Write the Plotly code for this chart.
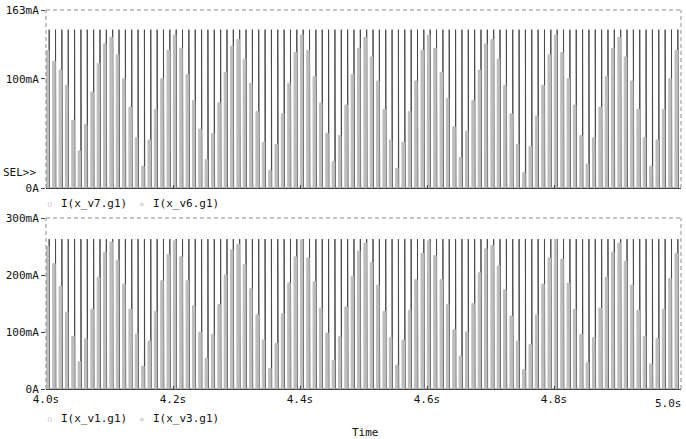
import numpy as np
import plotly.graph_objects as go

# ---------------- data ----------------
cycle_count = 100
cycle_start_s = 4.0
cycle_period_s = 0.01
cycle_times = [round(cycle_start_s + cycle_period_s * i, 3) for i in range(cycle_count)]

# top panel, mA
i_v7_peak = [
    145, 145, 145, 145, 145, 145, 145, 145, 145, 145,
    145, 145, 145, 145, 145, 145, 145, 145, 145, 145,
    145, 145, 145, 145, 145, 145, 145, 145, 145, 145,
    145, 145, 145, 145, 145, 145, 145, 145, 145, 145,
    145, 145, 145, 145, 145, 145, 145, 145, 145, 145,
    145, 145, 145, 145, 145, 145, 145, 145, 145, 145,
    145, 145, 145, 145, 145, 145, 145, 145, 145, 145,
    145, 145, 145, 145, 145, 145, 145, 145, 145, 145,
    145, 145, 145, 145, 145, 145, 145, 145, 145, 145,
    145, 145, 145, 145, 145, 145, 145, 145, 145, 145,
]
i_v6_peak = [
    126, 116, 108, 94, 62, 34, 58, 88, 114, 132,
    138, 122, 100, 74, 46, 20, 44, 72, 100, 126,
    140, 128, 104, 80, 54, 26, 50, 78, 106, 130,
    136, 118, 96, 70, 42, 16, 40, 68, 96, 124,
    140, 126, 102, 78, 50, 24, 48, 76, 104, 128,
    138, 120, 98, 72, 44, 18, 42, 70, 98, 126,
    140, 128, 106, 82, 56, 28, 52, 80, 108, 132,
    136, 118, 94, 68, 40, 14, 38, 66, 94, 122,
    140, 124, 100, 76, 48, 22, 46, 74, 102, 128,
    138, 120, 98, 72, 46, 20, 44, 72, 100, 126,
]
# bottom panel, mA
i_v1_peak = [
    263, 263, 263, 263, 263, 263, 263, 263, 263, 263,
    263, 263, 263, 263, 263, 263, 263, 263, 263, 263,
    263, 263, 263, 263, 263, 263, 263, 263, 263, 263,
    263, 263, 263, 263, 263, 263, 263, 263, 263, 263,
    263, 263, 263, 263, 263, 263, 263, 263, 263, 263,
    263, 263, 263, 263, 263, 263, 263, 263, 263, 263,
    263, 263, 263, 263, 263, 263, 263, 263, 263, 263,
    263, 263, 263, 263, 263, 263, 263, 263, 263, 263,
    263, 263, 263, 263, 263, 263, 263, 263, 263, 263,
    263, 263, 263, 263, 263, 263, 263, 263, 263, 263,
]
i_v3_peak = [
    250, 220, 180, 135, 92, 48, 88, 140, 196, 240,
    258, 226, 184, 140, 96, 40, 84, 136, 190, 236,
    260, 232, 190, 146, 100, 54, 96, 148, 200, 244,
    254, 218, 176, 130, 86, 36, 80, 132, 186, 232,
    262, 230, 188, 142, 98, 50, 92, 144, 198, 242,
    256, 222, 182, 136, 90, 42, 86, 138, 192, 238,
    260, 234, 192, 148, 104, 58, 100, 150, 204, 246,
    252, 216, 174, 128, 84, 34, 78, 130, 184, 230,
    262, 228, 186, 140, 96, 46, 90, 142, 196, 240,
    256, 224, 182, 138, 92, 44, 88, 140, 194, 238,
]

top_ticks = [0, 100, 163]
top_ticktext = ["0A", "100mA", "163mA"]
bot_ticks = [0, 100, 200, 300]
bot_ticktext = ["0A", "100mA", "200mA", "300mA"]
time_ticks = [4.0, 4.2, 4.4, 4.6, 4.8, 5.0]
time_ticktext = ["4.0s", "4.2s", "4.4s", "4.6s", "4.8s", ""]

# ---------------- helpers ----------------
def pulses(starts, peaks, t_on, t_off):
    xs, ys = [], []
    for t0, p in zip(starts, peaks):
        a, b = t0 + t_on, t0 + t_off
        xs += [a, a, b, b]
        ys += [0, p, p, 0]
    return xs, ys

DARK = "#4a4a4a"
LIGHT = "#bdbdbd"
FONT = "DejaVu Sans Mono"
W, H = 686, 439

fig = go.Figure()

# top panel
x, y = pulses(cycle_times, i_v7_peak, 0.0050, 0.0055)
fig.add_trace(go.Scatter(x=x, y=y, mode="lines", line=dict(color=DARK, width=1),
                         xaxis="x", yaxis="y", showlegend=False, hoverinfo="skip"))
x, y = pulses(cycle_times, i_v6_peak, 0.0006, 0.0045)
fig.add_trace(go.Scatter(x=x, y=y, mode="lines", line=dict(color=LIGHT, width=1),
                         fill="tozeroy", fillcolor=LIGHT,
                         xaxis="x", yaxis="y", showlegend=False, hoverinfo="skip"))
# bottom panel
x, y = pulses(cycle_times, i_v1_peak, 0.0050, 0.0055)
fig.add_trace(go.Scatter(x=x, y=y, mode="lines", line=dict(color=DARK, width=1),
                         xaxis="x2", yaxis="y2", showlegend=False, hoverinfo="skip"))
x, y = pulses(cycle_times, i_v3_peak, 0.0006, 0.0045)
fig.add_trace(go.Scatter(x=x, y=y, mode="lines", line=dict(color=LIGHT, width=1),
                         fill="tozeroy", fillcolor=LIGHT,
                         xaxis="x2", yaxis="y2", showlegend=False, hoverinfo="skip"))

def py(pix):
    return 1 - pix / H

xdom = [46 / W, 681 / W]
top_dom = [py(188), py(10)]
bot_dom = [py(389), py(218)]

axis_font = dict(family=FONT, size=11, color="#111111")
common_x = dict(range=[4.0, 5.0], domain=xdom, showgrid=False, zeroline=False,
                showline=True, linecolor="#444444", linewidth=1, automargin=False,
                tickvals=time_ticks, ticks="inside", ticklen=3, tickcolor="#444444",
                tickfont=axis_font)
common_y = dict(showgrid=False, zeroline=False, showline=False, automargin=False,
                ticks="outside", ticklen=4, tickcolor="#444444", tickfont=axis_font)

fig.update_layout(
    width=W, height=H, margin=dict(l=0, r=0, t=0, b=0, autoexpand=False),
    paper_bgcolor="white", plot_bgcolor="white",
    font=dict(family=FONT, size=11, color="#111111"),
    xaxis=dict(common_x, anchor="y", ticktext=[""] * 6),
    yaxis=dict(common_y, domain=top_dom, range=[0, 163], tickvals=top_ticks,
               ticktext=top_ticktext, anchor="x"),
    xaxis2=dict(common_x, anchor="y2", ticktext=time_ticktext),
    yaxis2=dict(common_y, domain=bot_dom, range=[0, 300], tickvals=bot_ticks,
                ticktext=bot_ticktext, anchor="x2"),
)

# dashed frame (top, left, right) for both panels
shapes = []
for xr, yr in (("x domain", "y domain"), ("x2 domain", "y2 domain")):
    for (x0, y0, x1, y1) in ((0, 1, 1, 1), (0, 0, 0, 1), (1, 0, 1, 1)):
        shapes.append(dict(type="line", xref=xr, yref=yr, x0=x0, y0=y0, x1=x1, y1=y1,
                           line=dict(color="#8a8a8a", width=1, dash="4px,3px")))
fig.update_layout(shapes=shapes)

ann = []
def text(xp, ypix, s, size=11, color="#111111", xanchor="left"):
    ann.append(dict(xref="paper", yref="paper", x=xp / W, y=py(ypix), text=s,
                    showarrow=False, xanchor=xanchor, yanchor="middle",
                    font=dict(family=FONT, size=size, color=color)))

text(38, 172, "SEL&gt;&gt;", xanchor="right")
for ypix, names in ((203, ("I(x_v7.g1)", "I(x_v6.g1)")), (418, ("I(x_v1.g1)", "I(x_v3.g1)"))):
    text(50, ypix, "□", size=6, color="#8a8a8a", xanchor="center")
    text(59, ypix, names[0])
    text(142, ypix, "◇", size=6, color="#8a8a8a", xanchor="center")
    text(151, ypix, names[1])
text(684, 403, "5.0s", xanchor="right")
text(365, 432, "Time", xanchor="center")
fig.update_layout(annotations=ann)

fig.write_html(
    "out.html",
    config={"displayModeBar": False},
    post_script="document.body.style.margin='0';document.body.style.padding='0';"
                "document.body.style.overflow='hidden';",
)
